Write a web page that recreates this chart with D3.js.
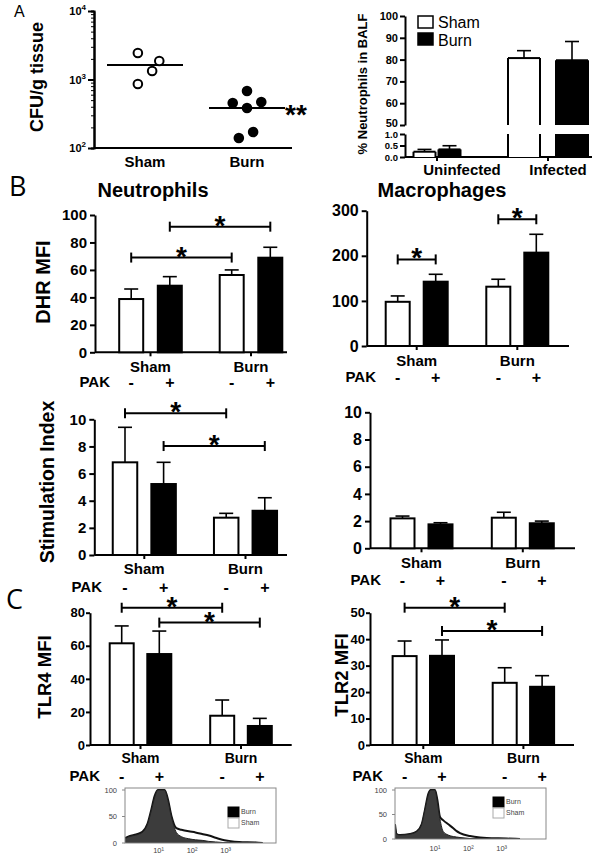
<!DOCTYPE html>
<html><head><meta charset="utf-8">
<script src="https://cdn.jsdelivr.net/npm/d3@7"></script>
<style>body{margin:0;background:#fff} svg{display:block}</style>
</head><body><svg id="c" width="600" height="856"></svg>
<script>
// ================= DATA =================
const groups = ["Sham", "Burn"];
const pakLabels = ["-", "+"];

// Panel A left: CFU/g tissue (log)
const cfuSham = [2440, 1860, 1330, 860];
const cfuBurn = [680, 454, 470, 384, 171, 140];
const cfuShamJitter = [-0.07, 0.14, 0.07, -0.07];
const cfuBurnJitter = [0, -0.14, 0.14, 0, 0.06, -0.08];
const cfuMedian = [1630, 384];
const cfuTicks = [100, 1000, 10000];
const cfuExp = ["2", "3", "4"];

// Panel A right: % neutrophils in BALF
const balfGroups = ["Uninfected", "Infected"];
const balfSham = [0.23, 80.7];
const balfShamErr = [0.10, 3.4];
const balfBurn = [0.33, 79.7];
const balfBurnErr = [0.16, 8.6];
const balfTicksLow = [0, 0.5, 1.0];
const balfTicksHigh = [50, 60, 70, 80, 90, 100];

// Panel B: DHR MFI neutrophils
const neutMinus = [38.8, 56.3], neutMinusErr = [7.3, 3.7];
const neutPlus = [48.5, 68.9], neutPlusErr = [6.6, 7.6];
const neutTicks = [0, 20, 40, 60, 80, 100];
const neutBrackets = [
  {from: ["Sham", "-"], to: ["Burn", "-"], y: 69},
  {from: ["Sham", "+"], to: ["Burn", "+"], y: 91.5}
];
// Panel B: DHR MFI macrophages
const macMinus = [98, 131.5], macMinusErr = [13, 16.5];
const macPlus = [142.6, 207], macPlusErr = [16.4, 40.7];
const macTicks = [0, 100, 200, 300];
const macBrackets = [
  {from: ["Sham", "-"], to: ["Sham", "+"], y: 192},
  {from: ["Burn", "-"], to: ["Burn", "+"], y: 281}
];
// Panel B: Stimulation index
const stimLMinus = [6.83, 2.75], stimLMinusErr = [2.58, 0.32];
const stimLPlus = [5.23, 3.26], stimLPlusErr = [1.6, 0.96];
const stimTicks = [0, 2, 4, 6, 8, 10];
const stimLBrackets = [
  {from: ["Sham", "-"], to: ["Burn", "-"], y: 10.44},
  {from: ["Sham", "+"], to: ["Burn", "+"], y: 8.03}
];
const stimRMinus = [2.2, 2.25], stimRMinusErr = [0.17, 0.4];
const stimRPlus = [1.76, 1.84], stimRPlusErr = [0.12, 0.16];
// Panel C: TLR4 / TLR2
const tlr4Minus = [61.5, 17.7], tlr4MinusErr = [10.5, 9.5];
const tlr4Plus = [55, 11.5], tlr4PlusErr = [13.9, 4.6];
const tlr4Ticks = [0, 20, 40, 60, 80];
const tlr4Brackets = [
  {from: ["Sham", "-"], to: ["Burn", "-"], y: 83},
  {from: ["Sham", "+"], to: ["Burn", "+"], y: 74}
];
const tlr2Minus = [33.6, 23.5], tlr2MinusErr = [5.7, 5.7];
const tlr2Plus = [33.7, 22], tlr2PlusErr = [6, 4.2];
const tlr2Ticks = [0, 10, 20, 30, 40, 50];
const tlr2Brackets = [
  {from: ["Sham", "-"], to: ["Burn", "-"], y: 51.9},
  {from: ["Sham", "+"], to: ["Burn", "+"], y: 43.1}
];
// Histograms (log10 fluorescence, % of max)
const histLegend = ["Burn", "Sham"];
const histYTicks = [0, 50, 100];
const histXTicks = ["10¹", "10²", "10³"];
const histXTickVals = [1, 2, 3];
const tlr4HistX = [0, 0.13, 0.33, 0.52, 0.67, 0.78, 0.88, 0.98, 1.18, 1.28, 1.38, 1.53, 1.68, 1.9, 2.1, 2.3, 2.5, 2.7, 2.9, 3.1, 3.4, 3.9, 4.1];
const tlr4HistBurn = [8, 12, 15, 20, 35, 60, 85, 100, 100, 80, 50, 20, 12, 8, 6, 5, 3, 2, 1, 0, 0, 0, 0];
const tlr4HistSham = [9, 13, 16, 21, 36, 62, 88, 100, 100, 82, 52, 28, 25, 22, 20, 17, 14, 10, 6, 4, 2, 1, 0];
const tlr2HistX = [-0.2, -0.15, -0.05, 0.25, 0.45, 0.6, 0.7, 0.8, 0.87, 1.0, 1.07, 1.15, 1.25, 1.4, 1.55, 1.65, 1.75, 2.05, 2.35, 2.55, 3.15, 3.55];
const tlr2HistBurn = [30, 10, 8, 10, 15, 30, 60, 90, 100, 100, 75, 40, 15, 8, 5, 4, 3, 1, 0, 0, 0, 0];
const tlr2HistSham = [30, 10, 8, 10, 15, 30, 60, 92, 100, 100, 80, 45, 38, 30, 22, 16, 12, 6, 3, 2, 1, 0];

// ================= DRAWING =================
const FONT = "'Liberation Sans', Arial, Helvetica, sans-serif";
const svg = d3.select("#c").style("font-family", FONT);

function label(x, y, s, size, opt = {}) {
  return svg.append("text").attr("x", x).attr("y", y).attr("dy", "0.35em")
    .attr("text-anchor", opt.anchor || "middle")
    .attr("font-size", size).attr("font-weight", opt.weight || "bold")
    .attr("fill", opt.fill || "#000")
    .style("font-family", opt.family || FONT).text(s);
}
function vlabel(x, y, s, size, weight = "bold") {
  return svg.append("text").attr("transform", `translate(${x},${y}) rotate(-90)`)
    .attr("dy", "0.35em").attr("text-anchor", "middle")
    .attr("font-size", size).attr("font-weight", weight).text(s);
}
function styleAxis(g, size) {
  g.select(".domain").attr("stroke", "#000").attr("stroke-width", 2);
  g.selectAll(".tick line").attr("stroke", "#000").attr("stroke-width", 2);
  g.selectAll(".tick text").attr("font-size", size).attr("font-weight", "bold")
    .attr("fill", "#000").style("font-family", FONT);
}
function star(x, yLine, s = "*") {
  svg.append("text").attr("x", x).attr("y", yLine + 8).attr("text-anchor", "middle")
    .attr("font-size", 28).attr("font-weight", "bold").text(s);
}

// Panel letters
label(14, 11, "A", 16, {anchor: "start", weight: "normal"});
label(9, 187, "B", 27, {anchor: "start", weight: "normal", family: "'Open Sans', sans-serif"});
label(6, 600, "C", 27, {anchor: "start", weight: "normal", family: "'Open Sans', sans-serif"});

// ---------- Panel A left ----------
(function () {
  const y = d3.scaleLog().domain([100, 10000]).range([148, 11]);
  const x = d3.scaleBand().domain(groups).range([94, 298]);
  const cx = g => x(g) + x.bandwidth() / 2;
  const minor = [];
  [100, 1000].forEach(b => { for (let k = 2; k <= 9; k++) minor.push(b * k); });
  const gm = svg.append("g").attr("transform", "translate(94,0)")
    .call(d3.axisLeft(y).tickValues(minor).tickSize(3).tickFormat(""));
  styleAxis(gm, 11);
  gm.selectAll(".tick line").attr("stroke-width", 1);
  const ga = svg.append("g").attr("transform", "translate(94,0)")
    .call(d3.axisLeft(y).tickValues(cfuTicks).tickSize(6).tickSizeOuter(0).tickFormat(""));
  styleAxis(ga, 11);
  cfuTicks.forEach((t, i) => {
    const tx = svg.append("text").attr("x", 86).attr("y", y(t) + 4).attr("text-anchor", "end")
      .attr("font-size", 11).attr("font-weight", "bold");
    tx.append("tspan").text("10");
    tx.append("tspan").attr("dy", -5).attr("font-size", 8).text(cfuExp[i]);
  });
  svg.append("line").attr("x1", 94).attr("x2", 292).attr("y1", 148).attr("y2", 148)
    .attr("stroke", "#000").attr("stroke-width", 2);
  groups.forEach(g => label(cx(g), 162, g, 15));
  vlabel(37, 77, "CFU/g tissue", 18);
  const sets = [[cfuSham, cfuShamJitter, "#fff"], [cfuBurn, cfuBurnJitter, "#000"]];
  sets.forEach(([vals, jit, fill], gi) => {
    const c = cx(groups[gi]);
    svg.append("line").attr("x1", c - 38).attr("x2", c + 38)
      .attr("y1", y(cfuMedian[gi])).attr("y2", y(cfuMedian[gi]))
      .attr("stroke", "#000").attr("stroke-width", 2);
    svg.selectAll(null).data(vals).enter().append("circle")
      .attr("cx", (d, i) => c + jit[i] * x.bandwidth())
      .attr("cy", d => y(d)).attr("r", 4.3)
      .attr("fill", fill).attr("stroke", "#000").attr("stroke-width", 2);
  });
  svg.append("text").attr("x", 296).attr("y", y(cfuMedian[1]) + 16).attr("text-anchor", "middle")
    .attr("font-size", 28).attr("font-weight", "bold").text("**");
})();

// ---------- Panel A right (broken axis) ----------
(function () {
  const axisX = 405;
  const yLow = d3.scaleLinear().domain([0, 1]).range([157, 134]);
  const yHigh = d3.scaleLinear().domain([50, 100]).range([125, 16]);
  const gx = d3.scaleBand().domain(balfGroups).range([381.5, 603.5]);
  const gc = g => gx(g) + gx.bandwidth() / 2;
  const barW = [22, 32], off = [12.5, 24];
  const gl = svg.append("g").attr("transform", `translate(${axisX},0)`)
    .call(d3.axisLeft(yLow).tickValues(balfTicksLow).tickSize(5).tickPadding(2).tickSizeOuter(0).tickFormat(d3.format(".1f")));
  styleAxis(gl, 9.5);
  const gh = svg.append("g").attr("transform", `translate(${axisX},0)`)
    .call(d3.axisLeft(yHigh).tickValues(balfTicksHigh).tickSize(5).tickPadding(2).tickSizeOuter(0));
  styleAxis(gh, 11);
  gh.selectAll(".tick text").filter(d => d === 50).attr("dy", "0.1em");
  svg.append("line").attr("x1", axisX).attr("x2", 592).attr("y1", 157).attr("y2", 157)
    .attr("stroke", "#000").attr("stroke-width", 2);
  balfGroups.forEach(g => {
    svg.append("line").attr("x1", gc(g)).attr("x2", gc(g)).attr("y1", 157).attr("y2", 161)
      .attr("stroke", "#000").attr("stroke-width", 2);
    label(gc(g) + (g === "Uninfected" ? 25 : 10), 170, g, 15);
  });
  vlabel(362, 84, "% Neutrophils in BALF", 13);
  const series = [[balfSham, balfShamErr, "#fff", -1], [balfBurn, balfBurnErr, "#000", 1]];
  series.forEach(([vals, errs, fill, side]) => {
    vals.forEach((v, i) => {
      const c = gc(balfGroups[i]) + side * off[i];
      const w = barW[i];
      const segs = v > 1 ? [[yHigh(v), yHigh(50), true], [yLow(1), yLow(0), false]] : [[yLow(v), yLow(0), true]];
      segs.forEach(([t, b, top]) => {
        svg.append("rect").attr("x", c - w / 2).attr("y", t).attr("width", w).attr("height", b - t)
          .attr("fill", fill);
        [c - w / 2, c + w / 2].forEach(ex => svg.append("line").attr("x1", ex).attr("x2", ex)
          .attr("y1", t).attr("y2", b).attr("stroke", "#000").attr("stroke-width", 2));
        if (top) svg.append("line").attr("x1", c - w / 2).attr("x2", c + w / 2)
          .attr("y1", t).attr("y2", t).attr("stroke", "#000").attr("stroke-width", 2);
      });
      const ys = v > 1 ? yHigh : yLow;
      const et = ys(v + errs[i]);
      svg.append("line").attr("x1", c).attr("x2", c).attr("y1", ys(v)).attr("y2", et)
        .attr("stroke", "#000").attr("stroke-width", 1.6);
      svg.append("line").attr("x1", c - 7).attr("x2", c + 7).attr("y1", et).attr("y2", et)
        .attr("stroke", "#000").attr("stroke-width", 1.6);
    });
  });
  // legend
  svg.append("rect").attr("x", 418).attr("y", 16).attr("width", 15).attr("height", 12)
    .attr("fill", "#fff").attr("stroke", "#000").attr("stroke-width", 1.5);
  svg.append("rect").attr("x", 418).attr("y", 33).attr("width", 15).attr("height", 12)
    .attr("fill", "#000").attr("stroke", "#000").attr("stroke-width", 1.5);
  svg.append("text").attr("x", 438).attr("y", 27.5).attr("font-size", 16).text("Sham");
  svg.append("text").attr("x", 438).attr("y", 45.5).attr("font-size", 16).text("Burn");
})();

// ---------- Generic bar panel ----------
function barPanel(p) {
  const y = d3.scaleLinear().domain(p.domain).range([p.yBottom, p.yTop]);
  const step = p.centers[1] - p.centers[0];
  const x = d3.scaleBand().domain(groups).range([p.centers[0] - step / 2, p.centers[1] + step / 2]);
  const sub = d3.scalePoint().domain(pakLabels).range([-p.offset, p.offset]);
  const bc = (g, s) => x(g) + x.bandwidth() / 2 + sub(s);
  const ga = svg.append("g").attr("transform", `translate(${p.axisX},0)`)
    .call(d3.axisLeft(y).tickValues(p.ticks).tickSize(p.tickLen || 5).tickPadding(p.tickPad || 3).tickSizeOuter(0));
  styleAxis(ga, p.tickSize);
  svg.append("line").attr("x1", p.axisX).attr("x2", p.xEnd).attr("y1", p.yBottom).attr("y2", p.yBottom)
    .attr("stroke", "#000").attr("stroke-width", 2);
  groups.forEach(g => {
    const c = x(g) + x.bandwidth() / 2;
    svg.append("line").attr("x1", c).attr("x2", c).attr("y1", p.yBottom).attr("y2", p.yBottom + 4)
      .attr("stroke", "#000").attr("stroke-width", 2);
    label(c, p.labelY, g, p.labelSize);
    pakLabels.forEach(s => label(bc(g, s), p.pakY, s, 16));
  });
  label(p.pakEnd, p.pakY, "PAK", 15, {anchor: "end"});
  const series = [[p.minus, p.minusErr, "-", "#fff"], [p.plus, p.plusErr, "+", "#000"]];
  series.forEach(([vals, errs, s, fill]) => {
    vals.forEach((v, i) => {
      const c = bc(groups[i], s);
      const et = y(v + errs[i]);
      svg.append("line").attr("x1", c).attr("x2", c).attr("y1", y(v)).attr("y2", et)
        .attr("stroke", "#000").attr("stroke-width", 1.6);
      svg.append("line").attr("x1", c - 7).attr("x2", c + 7).attr("y1", et).attr("y2", et)
        .attr("stroke", "#000").attr("stroke-width", 1.6);
      svg.append("rect").attr("x", c - p.barW / 2).attr("y", y(v)).attr("width", p.barW)
        .attr("height", p.yBottom - y(v)).attr("fill", fill).attr("stroke", "#000").attr("stroke-width", 2);
    });
  });
  (p.brackets || []).forEach(b => {
    const x1 = bc(b.from[0], b.from[1]), x2 = bc(b.to[0], b.to[1]), yy = y(b.y);
    svg.append("line").attr("x1", x1).attr("x2", x2).attr("y1", yy).attr("y2", yy)
      .attr("stroke", "#000").attr("stroke-width", 2);
    [x1, x2].forEach(ex => svg.append("line").attr("x1", ex).attr("x2", ex)
      .attr("y1", yy - 5).attr("y2", yy + 5).attr("stroke", "#000").attr("stroke-width", 2));
    star((x1 + x2) / 2, yy);
  });
  if (p.title) vlabel(p.titleX, p.titleY, p.title, p.titleSize);
}

label(153, 190, "Neutrophils", 20);
label(442, 190, "Macrophages", 20);

barPanel({axisX: 95, yBottom: 352.3, yTop: 215, domain: [0, 100], ticks: neutTicks,
  centers: [150.5, 251], offset: 19.3, barW: 24, xEnd: 287, tickSize: 15,
  minus: neutMinus, minusErr: neutMinusErr, plus: neutPlus, plusErr: neutPlusErr,
  brackets: neutBrackets, labelY: 367, labelSize: 15, pakY: 382, pakEnd: 110,
  title: "DHR MFI", titleX: 43, titleY: 282, titleSize: 20});
barPanel({axisX: 366.7, yBottom: 346, yTop: 210.7, domain: [0, 300], ticks: macTicks,
  centers: [416.7, 517.3], offset: 19, barW: 24, xEnd: 569, tickSize: 16,
  minus: macMinus, minusErr: macMinusErr, plus: macPlus, plusErr: macPlusErr,
  brackets: macBrackets, labelY: 361, labelSize: 15, pakY: 377, pakEnd: 376});
barPanel({axisX: 94.3, yBottom: 555, yTop: 419.3, domain: [0, 10], ticks: stimTicks,
  centers: [144.3, 245.5], offset: 19.3, barW: 24.5, xEnd: 287, tickSize: 15,
  minus: stimLMinus, minusErr: stimLMinusErr, plus: stimLPlus, plusErr: stimLPlusErr,
  brackets: stimLBrackets, labelY: 569, labelSize: 15, pakY: 587, pakEnd: 102,
  title: "Stimulation Index", titleX: 46.7, titleY: 482, titleSize: 19.5});
barPanel({axisX: 370, yBottom: 548.3, yTop: 412.3, domain: [0, 10], ticks: stimTicks,
  centers: [421.5, 522.8], offset: 19, barW: 24, xEnd: 575, tickSize: 16,
  minus: stimRMinus, minusErr: stimRMinusErr, plus: stimRPlus, plusErr: stimRPlusErr,
  labelY: 563, labelSize: 15, pakY: 580, pakEnd: 381});
barPanel({axisX: 90, yBottom: 745, yTop: 612.7, domain: [0, 80], ticks: tlr4Ticks,
  centers: [140.5, 241], offset: 18.8, barW: 24, xEnd: 291.7, tickSize: 13, tickLen: 4, tickPad: 1,
  minus: tlr4Minus, minusErr: tlr4MinusErr, plus: tlr4Plus, plusErr: tlr4PlusErr,
  brackets: tlr4Brackets, labelY: 758, labelSize: 14, pakY: 776, pakEnd: 100,
  title: "TLR4 MFI", titleX: 45, titleY: 677, titleSize: 18.5});
barPanel({axisX: 370, yBottom: 745, yTop: 612.7, domain: [0, 50], ticks: tlr2Ticks,
  centers: [423.3, 523.4], offset: 18.7, barW: 24, xEnd: 574, tickSize: 13, tickLen: 4, tickPad: 1,
  minus: tlr2Minus, minusErr: tlr2MinusErr, plus: tlr2Plus, plusErr: tlr2PlusErr,
  brackets: tlr2Brackets, labelY: 758, labelSize: 14, pakY: 776, pakEnd: 383,
  title: "TLR2 MFI", titleX: 342, titleY: 675, titleSize: 18.5});

// ---------- Histograms ----------
function histogram(h) {
  const x = d3.scaleLinear().domain(h.xDomain).range([h.x0, h.x1]);
  const y = d3.scaleLinear().domain([0, 100]).range([h.yBottom, h.yTop]);
  const id = "clip" + h.x0;
  svg.append("clipPath").attr("id", id).append("rect")
    .attr("x", h.x0).attr("y", h.yTop - 2).attr("width", h.x1 - h.x0).attr("height", h.yBottom - h.yTop + 2);
  const area = d3.area().x((d, i) => x(h.xs[i])).y0(y(0)).y1(d => y(d)).curve(d3.curveMonotoneX);
  const g = svg.append("g").attr("clip-path", `url(#${id})`);
  g.append("path").datum(h.sham).attr("d", area).attr("fill", "#fff")
    .attr("stroke", "#111").attr("stroke-width", 2);
  g.append("path").datum(h.burn).attr("d", area).attr("fill", "#3c3c3c")
    .attr("stroke", "#222").attr("stroke-width", 1);
  svg.append("rect").attr("x", h.x0).attr("y", h.boxTop).attr("width", h.x1 - h.x0)
    .attr("height", h.yBottom - h.boxTop).attr("fill", "none").attr("stroke", "#888").attr("stroke-width", 1);
  histYTicks.forEach(t => {
    svg.append("text").attr("x", h.x0 - 8).attr("y", y(t)).attr("dy", "0.35em").attr("text-anchor", "end")
      .attr("font-size", 7.5).attr("fill", "#444").text(t);
    svg.append("line").attr("x1", h.x0 - 3).attr("x2", h.x0).attr("y1", y(t)).attr("y2", y(t))
      .attr("stroke", "#888");
  });
  histXTickVals.forEach((t, i) => {
    svg.append("text").attr("x", x(t)).attr("y", h.labelY).attr("dy", "0.35em").attr("text-anchor", "middle")
      .attr("font-size", 7.5).attr("fill", "#444").text(histXTicks[i]);
  });
  histLegend.forEach((s, i) => {
    const ly = h.legY + i * 11;
    svg.append("rect").attr("x", h.legX).attr("y", ly).attr("width", 11).attr("height", 10)
      .attr("fill", i === 0 ? "#000" : "#fff").attr("stroke", i === 0 ? "#000" : "#aaa");
    svg.append("text").attr("x", h.legX + 13).attr("y", ly + 5).attr("dy", "0.35em")
      .attr("font-size", 7).attr("fill", "#444").text(s);
  });
}
histogram({xs: tlr4HistX, burn: tlr4HistBurn, sham: tlr4HistSham, xDomain: [0, 4.5],
  x0: 125, x1: 276, yBottom: 843, yTop: 790, boxTop: 788, labelY: 850.5, legX: 228, legY: 807});
histogram({xs: tlr2HistX, burn: tlr2HistBurn, sham: tlr2HistSham, xDomain: [-0.2, 4.33],
  x0: 395, x1: 546, yBottom: 839, yTop: 790, boxTop: 788, labelY: 848.5, legX: 493, legY: 797});
</script></body></html>
